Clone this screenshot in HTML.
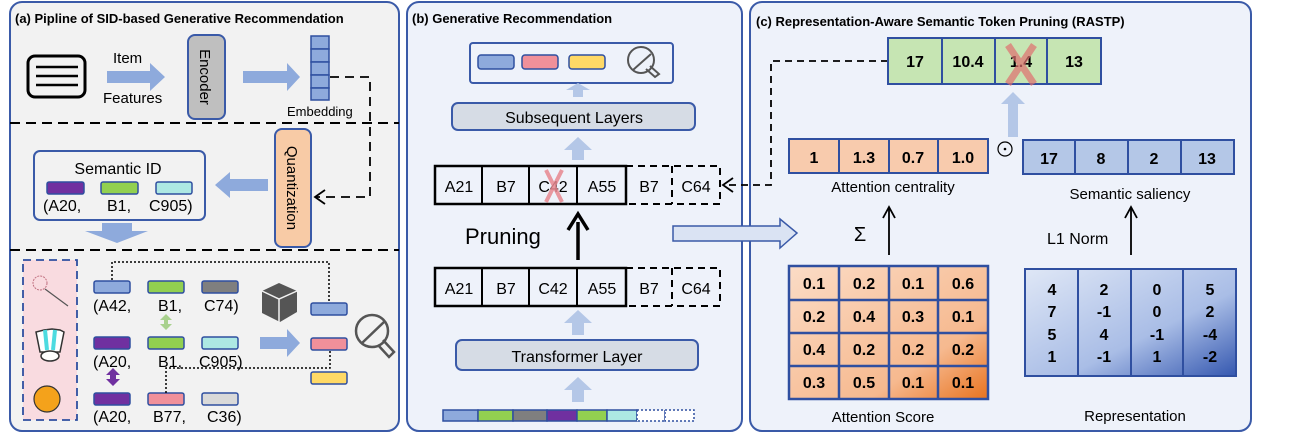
<!DOCTYPE html>
<html><head><meta charset="utf-8"><style>
html,body{margin:0;padding:0;background:#fff;}
svg{display:block;font-family:"Liberation Sans",sans-serif;}
</style></head><body>
<svg width="1295" height="434" viewBox="0 0 1295 434" xmlns="http://www.w3.org/2000/svg">
<defs>
<linearGradient id="ga" x1="0" y1="0" x2="1" y2="1"><stop offset="0" stop-color="#fbdcc6"/><stop offset="0.7" stop-color="#f6b98f"/><stop offset="1" stop-color="#e8731f"/></linearGradient>
<linearGradient id="gr" x1="0" y1="0" x2="1" y2="1"><stop offset="0" stop-color="#dfe7f6"/><stop offset="0.6" stop-color="#a9bde6"/><stop offset="1" stop-color="#3558b0"/></linearGradient>
</defs>
<!-- Panel a -->
<rect x="10" y="2" width="389" height="429" rx="12" fill="#f2f2f2" stroke="#3a5aa8" stroke-width="2"/>
<text x="15" y="23" font-size="13" font-weight="bold">(a) Pipline of SID-based Generative Recommendation</text>
<rect x="28" y="56" width="57" height="41" rx="7" fill="none" stroke="#000" stroke-width="3"/>
<g stroke="#000" stroke-width="2.5"><line x1="36" y1="67" x2="78" y2="67"/><line x1="36" y1="76" x2="78" y2="76"/><line x1="36" y1="85" x2="78" y2="85"/></g>
<text x="113" y="63" font-size="15">Item</text>
<text x="103" y="103" font-size="15">Features</text>
<path d="M107,71 H150 V63 L165,77 L150,91 V83 H107 Z" fill="#8eaadc"/>
<rect x="188" y="35" width="37" height="84" rx="7" fill="#bfbfbf" stroke="#3a5aa8" stroke-width="2"/>
<text transform="translate(200,77) rotate(90)" text-anchor="middle" font-size="15">Encoder</text>
<path d="M243,71 H287 V63 L300,77 L287,91 V83 H243 Z" fill="#8eaadc"/>
<g fill="#8eaadc" stroke="#2f4fa0" stroke-width="1.5"><rect x="311" y="36" width="18" height="13"/><rect x="311" y="49" width="18" height="13"/><rect x="311" y="62" width="18" height="13"/><rect x="311" y="75" width="18" height="13"/><rect x="311" y="88" width="18" height="12"/></g>
<text x="287" y="116" font-size="13">Embedding</text>
<path d="M330,77 H370 V197 H316" fill="none" stroke="#000" stroke-width="1.8" stroke-dasharray="9,6"/>
<path d="M325,190 L315,197 L325,204" fill="none" stroke="#000" stroke-width="1.8"/>
<line x1="10" y1="123" x2="399" y2="123" stroke="#000" stroke-width="2" stroke-dasharray="10,6"/>
<line x1="10" y1="250" x2="399" y2="250" stroke="#000" stroke-width="2" stroke-dasharray="10,6"/>
<rect x="275" y="129" width="36" height="118" rx="7" fill="#f8cba6" stroke="#3a5aa8" stroke-width="2"/>
<text transform="translate(287,188) rotate(90)" text-anchor="middle" font-size="15">Quantization</text>
<rect x="34" y="151" width="171" height="69" rx="6" fill="#f2f2f2" stroke="#3a5aa8" stroke-width="2"/>
<text x="118" y="174" text-anchor="middle" font-size="16">Semantic ID</text>
<rect x="47" y="182" width="37" height="12" rx="2" fill="#7030a0" stroke="#2f4fa0" stroke-width="1.5"/>
<rect x="101" y="182" width="37" height="12" rx="2" fill="#92d050" stroke="#2f4fa0" stroke-width="1.5"/>
<rect x="156" y="182" width="36" height="12" rx="2" fill="#ade8e3" stroke="#2f4fa0" stroke-width="1.5"/>
<text x="43" y="211" font-size="16">(A20,</text><text x="107" y="211" font-size="16">B1,</text><text x="149" y="211" font-size="16">C905)</text>
<path d="M268,179 H230 V172 L215,185 L230,198 V191 H268 Z" fill="#8eaadc"/>
<path d="M102,223 H132 V231 H148 L117,243 L85,231 H102 Z" fill="#8eaadc"/>
<rect x="23" y="260" width="54" height="160" fill="#f9dbe0" stroke="#2f4fa0" stroke-width="1.8" stroke-dasharray="8,5"/>
<circle cx="40" cy="283" r="7" fill="none" stroke="#c07080" stroke-width="1" stroke-dasharray="2,1"/>
<line x1="45" y1="289" x2="68" y2="306" stroke="#555" stroke-width="1.2"/>
<path d="M40,352 L36,332 L44,330 L52,329 L60,330 L64,332 L60,352 Z" fill="#fff" stroke="#333" stroke-width="1.5"/>
<path d="M45,330 L47,350 M55,330 L53,350" stroke="#4ddbe0" stroke-width="4"/>
<ellipse cx="50" cy="356" rx="9" fill="#fff" stroke="#333" stroke-width="1.5" ry="5"/>
<circle cx="47" cy="399" r="13" fill="#f4a21b" stroke="#333" stroke-width="1.2"/>
<!-- rows -->
<g stroke="#2f4fa0" stroke-width="1.5">
<rect x="94" y="281" width="36" height="12" rx="2" fill="#8eaadc"/><rect x="148" y="281" width="36" height="12" rx="2" fill="#92d050"/><rect x="202" y="281" width="36" height="12" rx="2" fill="#7f7f7f"/>
<rect x="94" y="337" width="36" height="12" rx="2" fill="#7030a0"/><rect x="148" y="337" width="36" height="12" rx="2" fill="#92d050"/><rect x="202" y="337" width="36" height="12" rx="2" fill="#ade8e3"/>
<rect x="94" y="393" width="36" height="12" rx="2" fill="#7030a0"/><rect x="148" y="393" width="36" height="12" rx="2" fill="#f0909a"/><rect x="202" y="393" width="36" height="12" rx="2" fill="#d9d9d9"/>
<rect x="311" y="303" width="36" height="12" rx="2" fill="#8eaadc"/><rect x="311" y="338" width="36" height="12" rx="2" fill="#f0909a"/><rect x="311" y="372" width="36" height="12" rx="2" fill="#ffd966"/>
</g>
<g font-size="16">
<text x="93" y="311">(A42,</text><text x="158" y="311">B1,</text><text x="204" y="311">C74)</text>
<text x="93" y="367">(A20,</text><text x="158" y="367">B1,</text><text x="199" y="367">C905)</text>
<text x="93" y="422">(A20,</text><text x="153" y="422">B77,</text><text x="207" y="422">C36)</text>
</g>
<path d="M166,314 L160,320 H164 V324 H160 L166,330 L172,324 H168 V320 H172 Z" fill="#a9d18e"/>
<path d="M113,368 L106,375 H110 V379 H106 L113,386 L120,379 H116 V375 H120 Z" fill="#7030a0"/>
<path d="M112,280 V262 H329 V303" fill="none" stroke="#000" stroke-width="1.5" stroke-dasharray="2,2"/>
<path d="M166,393 V368 H330 V350" fill="none" stroke="#000" stroke-width="1.5" stroke-dasharray="2,2"/>
<path d="M279,283 L297,291 L297,312 L280,322 L262,313 L262,291 Z" fill="#555"/>
<path d="M262,291 L279,299 L297,291 M279,299 V322" stroke="#f2f2f2" stroke-width="1.5" fill="none"/>
<path d="M260,337 H287 V329 L300,343 L287,357 V349 H260 Z" fill="#8eaadc"/>
<circle cx="372" cy="331" r="16" fill="none" stroke="#555" stroke-width="2.5"/>
<line x1="361" y1="344" x2="384" y2="322" stroke="#555" stroke-width="2.5"/>
<path d="M383,340 L394,352 L389,357 L378,345" fill="none" stroke="#555" stroke-width="2.5"/>
<!-- Panel b -->
<rect x="407" y="2" width="335" height="429" rx="12" fill="#eef2fa" stroke="#3a5aa8" stroke-width="2"/>
<text x="412" y="23" font-size="13" font-weight="bold">(b) Generative Recommendation</text>
<rect x="470" y="43" width="203" height="40" rx="3" fill="#eef2fa" stroke="#3a5aa8" stroke-width="2"/>
<g stroke="#2f4fa0" stroke-width="1.5"><rect x="478" y="55" width="36" height="14" rx="3" fill="#8eaadc"/><rect x="522" y="55" width="36" height="14" rx="3" fill="#f0909a"/><rect x="569" y="55" width="36" height="14" rx="3" fill="#ffd966"/></g>
<circle cx="641" cy="60" r="13" fill="none" stroke="#555" stroke-width="2"/>
<line x1="633" y1="70" x2="651" y2="54" stroke="#555" stroke-width="2"/>
<path d="M650,66 L659,74 L655,77 L646,69" fill="none" stroke="#555" stroke-width="2"/>
<path d="M573,97 V90 H566 L578,83 L590,90 H583 V97 Z" fill="#b4c7e7"/>
<rect x="452" y="103" width="243" height="27" rx="6" fill="#d6dce5" stroke="#3a5aa8" stroke-width="2"/>
<text x="574" y="123" text-anchor="middle" font-size="16">Subsequent Layers</text>
<path d="M572,160 V150 H564 L578,137 L592,150 H584 V160 Z" fill="#b4c7e7"/>
<g font-size="16" text-anchor="middle">
<rect x="435" y="166" width="191" height="38" fill="#eef2fa" stroke="#000" stroke-width="2.5"/>
<line x1="482" y1="166" x2="482" y2="204" stroke="#000" stroke-width="2"/><line x1="529" y1="166" x2="529" y2="204" stroke="#000" stroke-width="2"/><line x1="577" y1="166" x2="577" y2="204" stroke="#000" stroke-width="2"/>
<path d="M626,166 H720 V204 H626 M672,166 V204" fill="none" stroke="#000" stroke-width="2" stroke-dasharray="7,5"/>
<text x="459" y="192">A21</text><text x="506" y="192">B7</text><text x="553" y="192">C42</text><text x="602" y="192">A55</text><text x="649" y="192">B7</text><text x="696" y="192">C64</text>
<path d="M546,170 L562,202 M562,170 L546,202" stroke="#e88890" stroke-width="4" opacity="0.85"/>
<rect x="435" y="268" width="191" height="38" fill="#eef2fa" stroke="#000" stroke-width="2.5"/>
<line x1="482" y1="268" x2="482" y2="306" stroke="#000" stroke-width="2"/><line x1="529" y1="268" x2="529" y2="306" stroke="#000" stroke-width="2"/><line x1="577" y1="268" x2="577" y2="306" stroke="#000" stroke-width="2"/>
<path d="M626,268 H720 V306 H626 M672,268 V306" fill="none" stroke="#000" stroke-width="2" stroke-dasharray="7,5"/>
<text x="459" y="294">A21</text><text x="506" y="294">B7</text><text x="553" y="294">C42</text><text x="602" y="294">A55</text><text x="649" y="294">B7</text><text x="696" y="294">C64</text>
</g>
<text x="465" y="244" font-size="22">Pruning</text>
<line x1="578" y1="260" x2="578" y2="222" stroke="#000" stroke-width="3.5"/>
<path d="M568,230 L578,214 L588,230" fill="none" stroke="#000" stroke-width="3.5"/>
<path d="M572,335 V323 H564 L578,310 L592,323 H584 V335 Z" fill="#b4c7e7"/>
<rect x="456" y="340" width="242" height="30" rx="6" fill="#d6dce5" stroke="#3a5aa8" stroke-width="2"/>
<text x="577" y="362" text-anchor="middle" font-size="16">Transformer Layer</text>
<path d="M572,402 V390 H564 L578,377 L592,390 H584 V402 Z" fill="#b4c7e7"/>
<g stroke="#2f4fa0" stroke-width="1.5">
<rect x="443" y="410" width="35" height="11" fill="#8eaadc"/><rect x="478" y="410" width="35" height="11" fill="#92d050"/><rect x="513" y="410" width="34" height="11" fill="#7f7f7f"/><rect x="547" y="410" width="30" height="11" fill="#7030a0"/><rect x="577" y="410" width="30" height="11" fill="#92d050"/><rect x="607" y="410" width="30" height="11" fill="#ade8e3"/>
<rect x="637" y="410" width="28" height="11" fill="#fff" stroke-dasharray="2,2"/><rect x="665" y="410" width="29" height="11" fill="#fff" stroke-dasharray="2,2"/>
</g>
<!-- Panel c -->
<rect x="750" y="2" width="501" height="429" rx="12" fill="#eef2fa" stroke="#3a5aa8" stroke-width="2"/>
<text x="756" y="26" font-size="13" font-weight="bold">(c) Representation-Aware Semantic Token Pruning (RASTP)</text>
<path d="M673,226 H780 V219 L797,233 L780,248 V241 H673 Z" fill="#dae3f3" stroke="#3a5aa8" stroke-width="1.5"/>
<path d="M888,61 H771 V185 H723" fill="none" stroke="#000" stroke-width="1.8" stroke-dasharray="7,5"/>
<path d="M733,178 L723,185 L733,192" fill="none" stroke="#000" stroke-width="1.8"/>
<g font-size="16" font-weight="bold" text-anchor="middle">
<rect x="888" y="38" width="213" height="46" fill="#c6e5b3" stroke="#2f4fa0" stroke-width="2"/>
<line x1="942" y1="38" x2="942" y2="84" stroke="#2f4fa0" stroke-width="2"/><line x1="995" y1="38" x2="995" y2="84" stroke="#2f4fa0" stroke-width="2"/><line x1="1047" y1="38" x2="1047" y2="84" stroke="#2f4fa0" stroke-width="2"/>
<text x="915" y="67">17</text><text x="968" y="67">10.4</text><text x="1021" y="67">1.4</text><text x="1074" y="67">13</text>
<path d="M1008,45 L1034,84 M1034,45 L1008,84" stroke="#e07070" stroke-width="7" opacity="0.7"/>
<rect x="789" y="139" width="199" height="34" fill="#f8cbad" stroke="#2f4fa0" stroke-width="2"/>
<line x1="839" y1="139" x2="839" y2="173" stroke="#2f4fa0" stroke-width="2"/><line x1="889" y1="139" x2="889" y2="173" stroke="#2f4fa0" stroke-width="2"/><line x1="938" y1="139" x2="938" y2="173" stroke="#2f4fa0" stroke-width="2"/>
<text x="814" y="163">1</text><text x="864" y="163">1.3</text><text x="913" y="163">0.7</text><text x="963" y="163">1.0</text>
<rect x="1023" y="140" width="211" height="34" fill="#b4c7e7" stroke="#2f4fa0" stroke-width="2"/>
<line x1="1075" y1="140" x2="1075" y2="174" stroke="#2f4fa0" stroke-width="2"/><line x1="1128" y1="140" x2="1128" y2="174" stroke="#2f4fa0" stroke-width="2"/><line x1="1181" y1="140" x2="1181" y2="174" stroke="#2f4fa0" stroke-width="2"/>
<text x="1049" y="164">17</text><text x="1101" y="164">8</text><text x="1154" y="164">2</text><text x="1207" y="164">13</text>
</g>
<path d="M1008,137 V104 H1001 L1013,92 L1025,104 H1018 V137 Z" fill="#b4c7e7"/>
<circle cx="1005" cy="149" r="7" fill="none" stroke="#000" stroke-width="1.2"/><circle cx="1005" cy="149" r="1.3" fill="#000"/>
<text x="893" y="192" text-anchor="middle" font-size="15">Attention centrality</text>
<text x="1130" y="199" text-anchor="middle" font-size="15">Semantic saliency</text>
<text x="860" y="241" text-anchor="middle" font-size="20">Σ</text>
<line x1="889" y1="255" x2="889" y2="208" stroke="#000" stroke-width="1.8"/><path d="M883,218 L889,207 L895,218" fill="none" stroke="#000" stroke-width="1.8"/>
<text x="1047" y="244" font-size="16">L1 Norm</text>
<line x1="1131" y1="255" x2="1131" y2="208" stroke="#000" stroke-width="1.8"/><path d="M1125,218 L1131,207 L1137,218" fill="none" stroke="#000" stroke-width="1.8"/>
<rect x="789" y="266" width="199" height="133" fill="url(#ga)" stroke="#2f4fa0" stroke-width="2.5"/>
<g stroke="#2f4fa0" stroke-width="2.5"><line x1="839" y1="266" x2="839" y2="399"/><line x1="889" y1="266" x2="889" y2="399"/><line x1="938" y1="266" x2="938" y2="399"/><line x1="789" y1="300" x2="988" y2="300"/><line x1="789" y1="333" x2="988" y2="333"/><line x1="789" y1="366" x2="988" y2="366"/></g>
<g font-size="16" font-weight="bold" text-anchor="middle">
<text x="814" y="289">0.1</text><text x="864" y="289">0.2</text><text x="913" y="289">0.1</text><text x="963" y="289">0.6</text>
<text x="814" y="322">0.2</text><text x="864" y="322">0.4</text><text x="913" y="322">0.3</text><text x="963" y="322">0.1</text>
<text x="814" y="355">0.4</text><text x="864" y="355">0.2</text><text x="913" y="355">0.2</text><text x="963" y="355">0.2</text>
<text x="814" y="388">0.3</text><text x="864" y="388">0.5</text><text x="913" y="388">0.1</text><text x="963" y="388">0.1</text>
</g>
<text x="883" y="422" text-anchor="middle" font-size="15">Attention Score</text>
<rect x="1025" y="269" width="211" height="107" fill="url(#gr)" stroke="#2f4fa0" stroke-width="2"/>
<g stroke="#2f4fa0" stroke-width="2"><line x1="1078" y1="269" x2="1078" y2="376"/><line x1="1131" y1="269" x2="1131" y2="376"/><line x1="1183" y1="269" x2="1183" y2="376"/></g>
<g font-size="16" font-weight="bold" text-anchor="middle">
<text x="1052" y="295">4</text><text x="1052" y="317">7</text><text x="1052" y="340">5</text><text x="1052" y="362">1</text>
<text x="1104" y="295">2</text><text x="1104" y="317">-1</text><text x="1104" y="340">4</text><text x="1104" y="362">-1</text>
<text x="1157" y="295">0</text><text x="1157" y="317">0</text><text x="1157" y="340">-1</text><text x="1157" y="362">1</text>
<text x="1210" y="295">5</text><text x="1210" y="317">2</text><text x="1210" y="340">-4</text><text x="1210" y="362">-2</text>
</g>
<text x="1135" y="421" text-anchor="middle" font-size="15">Representation</text>
</svg>
</body></html>
